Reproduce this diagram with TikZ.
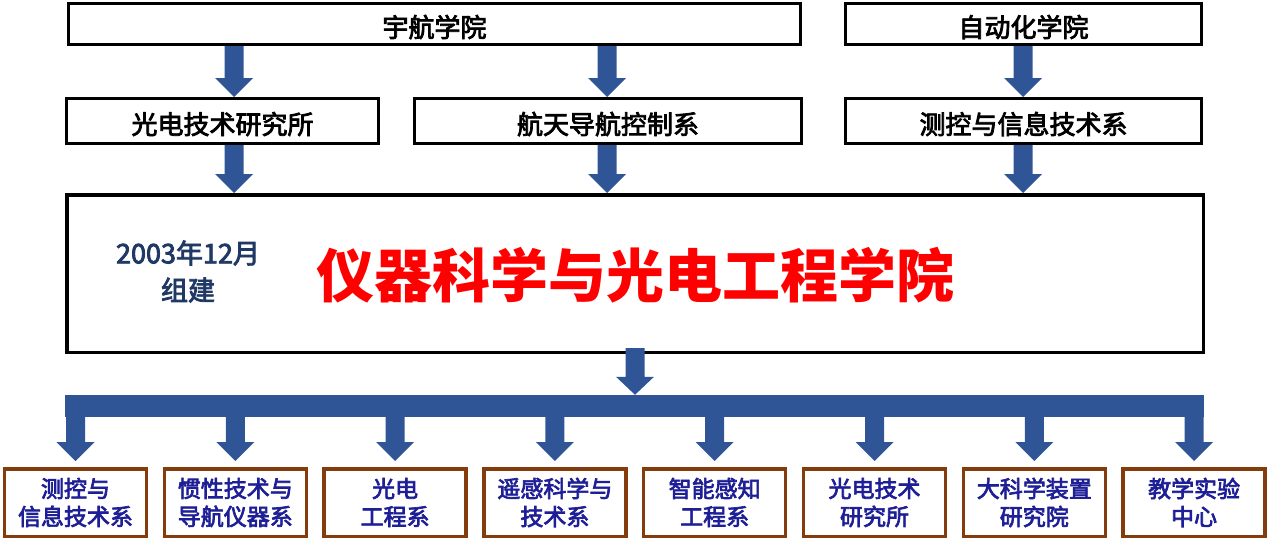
\documentclass[tikz,border=0pt]{standalone}
\usepackage{fontspec}
\newfontfamily\cjk{Noto Sans CJK SC}
\newfontfamily\cjkm[FakeBold=3]{Noto Sans CJK SC}
\usetikzlibrary{calc}
\definecolor{arrowblue}{RGB}{47,85,151}
\definecolor{brownb}{RGB}{132,60,12}
\definecolor{labelblue}{RGB}{30,30,150}
\definecolor{navy}{RGB}{31,56,100}
\tikzset{
  topbox/.style={draw=black, line width=3pt, inner sep=0pt, fill=white,
    font=\cjkm\fontsize{26}{30}\selectfont, minimum height=41pt,
    text height=29pt, text depth=3pt},
  midbox/.style={topbox, minimum height=45pt},
  botbox/.style={draw=brownb, line width=3.5pt, fill=white, inner sep=0pt,
    minimum width=142pt, minimum height=67.5pt, align=center, text=labelblue,
    font=\cjkm\fontsize{23}{28}\selectfont},
}
\newcommand\barrow[3][19]{%
  \fill[arrowblue] let \p1=#2, \p2=#3 in
    (\x1-9.5pt,\y1) -- (\x1+9.5pt,\y1) -- (\x1+9.5pt,\y2+#1pt) -- (\x1+19pt,\y2+#1pt)
    -- (\x1,\y2) -- (\x1-19pt,\y2+#1pt) -- (\x1-9.5pt,\y2+#1pt) -- cycle;}
\begin{document}
\begin{tikzpicture}[x=1pt,y=-1pt]
\useasboundingbox (0,0) rectangle (1269,546);
% arrow x positions
\coordinate (a1) at (234,0);
\coordinate (a2) at (607,0);
\coordinate (a3) at (1023,0);
\coordinate (am) at (635,0);
% top row
\node[topbox, minimum width=732pt] (yh) at (434.5,24) {宇航学院};
\node[topbox, minimum width=356pt] (zd) at (1023.5,24) {自动化学院};
% second row
\node[midbox, minimum width=312pt] (gd) at (222.5,121) {光电技术研究所};
\node[midbox, minimum width=387pt] (ht) at (608,121) {航天导航控制系};
\node[midbox, minimum width=356pt] (ck) at (1023.5,121) {测控与信息技术系};
% main box
\node[draw=black, line width=3.5pt, fill=white, inner sep=0pt, minimum width=1136.5pt, minimum height=157.5pt] (main) at (635,273.5) {};
\node[text=red, font=\cjk\bfseries\fontsize{58}{62}\selectfont, inner sep=0pt] (title) at (635,275) {仪器科学与光电工程学院};
\node[text=navy, font=\cjkm\fontsize{27}{37}\selectfont, align=center, inner sep=0pt] (date) at (188,271.5) {2003年12月\\组建};
% bar
\node[fill=arrowblue, inner sep=0pt, minimum width=1139pt, minimum height=22pt] (bar) at (634.5,406) {};
% bottom boxes
\node[botbox] (b1) at (75.5,502.5) {测控与\\信息技术系};
\node[botbox] (b2) at (235.3,502.5) {惯性技术与\\导航仪器系};
\node[botbox] (b3) at (395.1,502.5) {光电\\工程系};
\node[botbox] (b4) at (554.9,502.5) {遥感科学与\\技术系};
\node[botbox] (b5) at (714.7,502.5) {智能感知\\工程系};
\node[botbox] (b6) at (874.5,502.5) {光电技术\\研究所};
\node[botbox] (b7) at (1034.3,502.5) {大科学装置\\研究院};
\node[botbox] (b8) at (1194.1,502.5) {教学实验\\中心};
% arrows top -> second row
\barrow{(yh.south -| a1)}{(gd.north -| a1)}
\barrow{(yh.south -| a2)}{(ht.north -| a2)}
\barrow{(zd.south -| a3)}{(ck.north -| a3)}
% second row -> main
\barrow{(gd.south -| a1)}{(main.north -| a1)}
\barrow{(ht.south -| a2)}{(main.north -| a2)}
\barrow{(ck.south -| a3)}{(main.north -| a3)}
% main -> bar
\barrow[18]{($(main.south -| am)+(0,-6)$)}{(bar.north -| am)}
% bar -> bottom boxes
\foreach \b in {b1,b2,b3,b4,b5,b6,b7,b8}{
  \barrow{(bar.south -| \b)}{($(\b.north)+(0,-6)$)}
}
\end{tikzpicture}
\end{document}
